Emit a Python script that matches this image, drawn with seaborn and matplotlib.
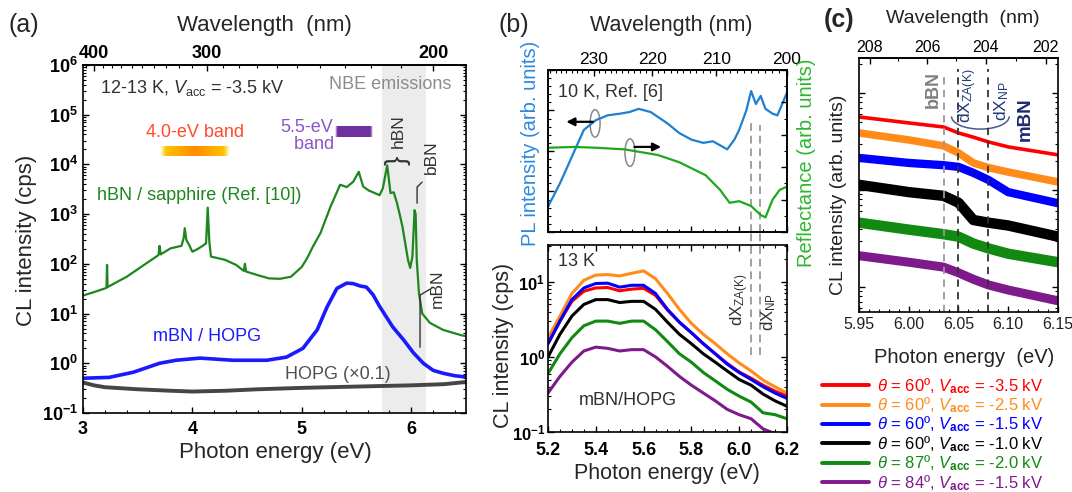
import numpy as np
import matplotlib
matplotlib.use("Agg")
import matplotlib.pyplot as plt
import seaborn as sns
from matplotlib.patches import Ellipse, Arc
from matplotlib.lines import Line2D
from matplotlib.ticker import (MultipleLocator, FixedLocator, LogLocator,
                               NullFormatter, FuncFormatter)

# ---- panel (a): wide-range CL spectra (energy in eV, intensity in cps)
a_e_hbn = [3.00, 3.10, 3.20, 3.215, 3.22, 3.225, 3.30, 3.40, 3.50, 3.60,
           3.69, 3.70, 3.71, 3.80, 3.90, 3.92, 3.93, 3.945, 3.97, 4.00,
           4.05, 4.10, 4.125, 4.14, 4.155, 4.17, 4.30, 4.40, 4.47, 4.48,
           4.49, 4.60, 4.70, 4.80, 4.90, 5.00, 5.05, 5.10, 5.17, 5.26,
           5.35, 5.41, 5.47, 5.52, 5.56, 5.61, 5.65, 5.71, 5.74, 5.78,
           5.81, 5.84, 5.87, 5.90, 5.92, 5.94, 5.97, 5.99, 6.01, 6.03,
           6.04, 6.05, 6.07, 6.10, 6.17, 6.29, 6.45, 6.50]
a_i_hbn = [23, 27, 32, 33, 95, 34, 42, 55, 78, 110,
           150, 230, 155, 205, 230, 330, 520, 300, 240, 175,
           200, 235, 260, 1350, 270, 140, 120, 95, 72, 100,
           70, 59, 51, 50, 55, 87, 132, 220, 415, 1380,
           3900, 3500, 4500, 7100, 3600, 3000, 2750, 2400, 3300, 9600,
           2650, 2750, 1650, 870, 550, 300, 120, 83, 138, 1200,
           1000, 120, 26, 10, 6.5, 4.7, 3.7, 3.5]
a_e_mbn = [3.00, 3.24, 3.46, 3.70, 3.85, 4.07, 4.37, 4.68, 4.86, 5.01,
           5.14, 5.23, 5.32, 5.41, 5.47, 5.53, 5.59, 5.65, 5.71, 5.83,
           5.93, 6.02, 6.11, 6.20, 6.29, 6.40, 6.50]
a_i_mbn = [0.50, 0.52, 0.66, 1.00, 1.15, 1.27, 1.15, 1.15, 1.33, 2.0,
           4.7, 13.5, 32, 41, 40, 36, 34, 24, 14, 5.4,
           2.95, 1.62, 1.0, 0.72, 0.63, 0.56, 0.53]
a_e_hopg = [3.0, 3.1, 3.2, 3.5, 3.8, 4.0, 4.3, 4.6, 5.0, 5.5, 6.0, 6.3, 6.5]
a_i_hopg = [0.41, 0.36, 0.33, 0.30, 0.28, 0.27, 0.28, 0.30, 0.32, 0.34,
            0.36, 0.38, 0.42]

# ---- panel (b) top: PL and reflectance (arb. units)
b_e_pl = [5.20, 5.25, 5.30, 5.35, 5.40, 5.45, 5.50, 5.54, 5.58, 5.63,
          5.70, 5.75, 5.80, 5.85, 5.89, 5.95, 5.98, 6.00, 6.03, 6.05,
          6.07, 6.09, 6.11, 6.14, 6.16, 6.20]
b_i_pl = [0.156, 0.30, 0.465, 0.63, 0.69, 0.72, 0.73, 0.74, 0.76, 0.74,
          0.67, 0.61, 0.57, 0.55, 0.56, 0.51, 0.57, 0.63, 0.75, 0.87,
          0.79, 0.84, 0.76, 0.73, 0.72, 0.86]
b_e_refl = [5.20, 5.31, 5.40, 5.52, 5.66, 5.75, 5.86, 5.92, 5.96, 6.00,
            6.05, 6.09, 6.11, 6.14, 6.17, 6.20]
b_i_refl = [0.52, 0.525, 0.52, 0.51, 0.475, 0.43, 0.35, 0.26, 0.18, 0.19,
            0.16, 0.105, 0.09, 0.20, 0.26, 0.28]

# ---- panel (b) bottom: mBN/HOPG CL (cps)
b_energy = [5.20, 5.25, 5.30, 5.35, 5.40, 5.45, 5.50, 5.55, 5.60, 5.65,
            5.70, 5.75, 5.80, 5.85, 5.90, 5.95, 6.00, 6.05, 6.10, 6.15, 6.20]
b_orange = [1.8, 3.5, 7.0, 10.5, 12.3, 12.5, 12.0, 13.0, 14.0, 11.0,
            7.0, 4.3, 2.8, 2.0, 1.5, 1.1, 0.83, 0.65, 0.49, 0.40, 0.33]
b_red = [1.5, 3.0, 5.5, 7.5, 8.3, 8.4, 7.6, 8.0, 8.2, 6.6,
         4.2, 2.9, 2.1, 1.5, 1.1, 0.82, 0.63, 0.52, 0.42, 0.35, 0.30]
b_blue = [1.5, 3.0, 5.8, 8.3, 9.5, 9.6, 8.5, 9.0, 9.0, 7.0,
          4.3, 2.9, 2.1, 1.5, 1.1, 0.80, 0.62, 0.50, 0.40, 0.33, 0.28]
b_black = [1.0, 2.0, 3.5, 5.0, 5.8, 5.8, 5.3, 5.5, 5.5, 4.3,
           2.9, 2.0, 1.5, 1.1, 0.85, 0.65, 0.50, 0.42, 0.32, 0.26, 0.22]
b_green = [0.6, 1.1, 1.8, 2.6, 3.0, 3.0, 2.8, 3.0, 3.0, 2.3,
           1.6, 1.1, 0.85, 0.62, 0.48, 0.37, 0.30, 0.25, 0.18, 0.17, 0.15]
b_purple = [0.33, 0.55, 0.85, 1.2, 1.35, 1.3, 1.2, 1.25, 1.25, 1.0,
            0.75, 0.55, 0.42, 0.33, 0.26, 0.20, 0.17, 0.15, 0.11, 0.095, 0.085]

# ---- panel (c): close-up (arb. units)
c_energy = [5.95, 6.00, 6.035, 6.05, 6.065, 6.08, 6.10, 6.15]
c_red = [56.6, 49.1, 44.6, 38.7, 35.0, 31.3, 27.8, 23.0]
c_orange = [38.7, 32.8, 28.5, 24.1, 19.0, 17.0, 15.3, 12.1]
c_blue = [21.4, 19.0, 18.0, 17.3, 15.0, 12.7, 9.5, 7.3]
c_black = [11.3, 9.5, 8.7, 7.4, 4.9, 4.6, 4.3, 3.3]
c_green = [4.6, 3.9, 3.5, 3.3, 2.8, 2.5, 2.2, 1.8]
c_purple = [2.1, 1.8, 1.6, 1.4, 1.2, 1.05, 0.93, 0.72]

series_colors = ["#ff0000", "#ff8c1a", "#0000ff", "#000000", "#128a12", "#7f1a8c"]
series_labels = [
    r"$\theta$ = 60º, $V_{\mathbf{acc}}$ = -3.5 kV",
    r"$\theta$ = 60º, $V_{\mathbf{acc}}$ = -2.5 kV",
    r"$\theta$ = 60º, $V_{\mathbf{acc}}$ = -1.5 kV",
    r"$\theta$ = 60º, $V_{\mathbf{acc}}$ = -1.0 kV",
    r"$\theta$ = 87º, $V_{\mathbf{acc}}$ = -2.0 kV",
    r"$\theta$ = 84º, $V_{\mathbf{acc}}$ = -1.5 kV",
]

sns.set_theme(style="ticks")
plt.rcParams["font.family"] = ["Liberation Sans", "DejaVu Sans"]
plt.rcParams["mathtext.fontset"] = "custom"
plt.rcParams["mathtext.rm"] = "Liberation Sans"
plt.rcParams["mathtext.it"] = "Liberation Sans:italic"
plt.rcParams["mathtext.bf"] = "Liberation Sans:bold"
plt.rcParams["axes.edgecolor"] = "black"
plt.rcParams["axes.linewidth"] = 1.2
for k in ("xtick", "ytick"):
    plt.rcParams[f"{k}.direction"] = "in"
    plt.rcParams[f"{k}.color"] = "black"
    plt.rcParams[f"{k}.major.size"] = 4.5
    plt.rcParams[f"{k}.minor.size"] = 2.5
    plt.rcParams[f"{k}.major.width"] = 1.0
    plt.rcParams[f"{k}.minor.width"] = 0.8

HC = 1239.84


def ev_nm(x):
    x = np.asarray(x, dtype=float)
    with np.errstate(divide="ignore"):
        return HC / x


bold_pow = FuncFormatter(lambda v, p: r"$\mathbf{10^{%d}}$" % round(np.log10(v)))


def wave_axis(ax, major, minor, size, weight):
    sec = ax.secondary_xaxis("top", functions=(ev_nm, ev_nm))
    sec.set_xticks(major)
    sec.set_xticklabels([str(m) for m in major], fontsize=size, fontweight=weight)
    sec.xaxis.set_minor_locator(FixedLocator(minor))
    sec.tick_params(which="both", direction="in", pad=2)
    return sec


fig = plt.figure(figsize=(10.72, 4.92), dpi=100)

# ================= (a)
ax_a = fig.add_axes([0.0774, 0.1606, 0.3573, 0.7073])
ax_a.axvspan(5.73, 6.13, color="#ececec", lw=0, zorder=0)
sns.lineplot(x=a_e_hopg, y=a_i_hopg, ax=ax_a, color="#454545", lw=2.8, legend=False)
sns.lineplot(x=a_e_mbn, y=a_i_mbn, ax=ax_a, color="#1a1aff", lw=2.6, legend=False)
sns.lineplot(x=a_e_hbn, y=a_i_hbn, ax=ax_a, color="#1e861e", lw=1.6, legend=False)
ax_a.set_yscale("log")
ax_a.set_xlim(3, 6.5)
ax_a.set_ylim(0.1, 1e6)
ax_a.set_xticks([3, 4, 5, 6])
ax_a.set_xticklabels(["3", "4", "5", "6"], fontsize=13, fontweight="bold")
ax_a.xaxis.set_minor_locator(MultipleLocator(0.2))
ax_a.yaxis.set_major_locator(LogLocator(base=10, numticks=10))
ax_a.yaxis.set_minor_locator(LogLocator(base=10, subs=np.arange(2, 10), numticks=20))
ax_a.yaxis.set_major_formatter(bold_pow)
ax_a.yaxis.set_minor_formatter(NullFormatter())
ax_a.tick_params(axis="y", labelsize=13, which="both", right=True)
ax_a.tick_params(axis="x", which="both", bottom=True, pad=6)
wave_axis(ax_a, [400, 300, 200], list(range(200, 420, 10)), 13, "bold")

ax_a.text(0.044, 0.934, r"12-13 K, $V_{\rm acc}$ = -3.5 kV", transform=ax_a.transAxes,
          fontsize=13, color="#303030", va="center")
ax_a.text(0.963, 0.943, "NBE emissions", transform=ax_a.transAxes, fontsize=13,
          color="#8c8c8c", va="center", ha="right")
ax_a.text(0.292, 0.807, "4.0-eV band", transform=ax_a.transAxes, fontsize=13,
          color="#ff4b2b", va="center", ha="center")
ax_a.text(0.585, 0.796, "5.5-eV\n   band", transform=ax_a.transAxes, fontsize=13,
          color="#8a55c8", va="center", ha="center", linespacing=1.05)
ax_a.text(0.037, 0.626, "hBN / sapphire (Ref. [10])", transform=ax_a.transAxes,
          fontsize=13, color="#1e861e", va="center")
ax_a.text(0.183, 0.221, "mBN / HOPG", transform=ax_a.transAxes, fontsize=13,
          color="#1a1aff", va="center")
ax_a.text(0.527, 0.112, "HOPG (×0.1)", transform=ax_a.transAxes, fontsize=13,
          color="#505050", va="center")
ax_a.text(0.822, 0.81, "hBN", transform=ax_a.transAxes, fontsize=12.5, rotation=90,
          color="#333333", va="center", ha="center")
ax_a.text(0.822, 0.727, "}", transform=ax_a.transAxes, fontsize=20, rotation=90,
          color="#333333", va="center", ha="center")
ax_a.text(0.911, 0.736, "bBN", transform=ax_a.transAxes, fontsize=12.5, rotation=90,
          color="#333333", va="center", ha="center")
ax_a.text(0.924, 0.356, "mBN", transform=ax_a.transAxes, fontsize=12.5, rotation=90,
          color="#333333", va="center", ha="center")
ax_a.plot([6.099, 6.053, 6.053], [4400, 3500, 1660], color="#333333", lw=1)
ax_a.plot([6.172, 6.08, 6.08], [31, 23.5, 2.1], color="#333333", lw=1)

# gradient bars for the defect bands
grad = np.linspace(0, 1, 200)
mix = np.abs(grad - 0.5) * 2
bar1 = np.zeros((1, 200, 4))
bar1[0, :, 0] = 1.0
bar1[0, :, 1] = 0.55 + 0.25 * mix
bar1[0, :, 3] = np.clip((1 - mix) * 6, 0, 1)
ax_g1 = fig.add_axes([160 / 1072, 1 - 156 / 492, 70 / 1072, 10 / 492])
ax_g1.imshow(bar1, aspect="auto")
ax_g1.axis("off")
bar2 = np.zeros((1, 200, 4))
bar2[0, :, 0] = 0.44
bar2[0, :, 1] = 0.19
bar2[0, :, 2] = 0.63
bar2[0, :, 3] = np.clip((1 - mix) * 8, 0, 1)
ax_g2 = fig.add_axes([335 / 1072, 1 - 137 / 492, 38 / 1072, 11 / 492])
ax_g2.imshow(bar2, aspect="auto")
ax_g2.axis("off")

fig.text(0.0075, 0.949, "(a)", fontsize=18, va="center")
fig.text(0.247, 0.949, "Wavelength  (nm)", fontsize=16, va="center", ha="center")
fig.text(0.2565, 0.081, "Photon energy (eV)", fontsize=16, va="center", ha="center")
fig.text(0.025, 0.512, "CL intensity (cps)", fontsize=16, va="center", ha="center",
         rotation=90)

# ================= (b) top
ax_bt = fig.add_axes([0.5112, 0.5285, 0.2229, 0.3293])
sns.lineplot(x=b_e_pl, y=b_i_pl, ax=ax_bt, color="#1f7fd0", lw=1.6, legend=False)
ax_bt.set_xlim(5.2, 6.2)
ax_bt.set_ylim(0, 1)
ax_bt.xaxis.set_major_locator(MultipleLocator(0.2))
ax_bt.xaxis.set_minor_locator(MultipleLocator(0.05))
ax_bt.set_xticklabels([])
ax_bt.yaxis.set_major_locator(MultipleLocator(0.25))
ax_bt.yaxis.set_minor_locator(MultipleLocator(0.05))
ax_bt.set_yticklabels([])
ax_br = ax_bt.twinx()
sns.lineplot(x=b_e_refl, y=b_i_refl, ax=ax_br, color="#1ea81e", lw=1.6, legend=False)
ax_br.set_ylim(0, 1)
ax_br.yaxis.set_major_locator(MultipleLocator(0.2))
ax_br.yaxis.set_minor_locator(MultipleLocator(0.1))
ax_br.set_yticklabels([])
ax_br.set_ylabel("")
wave_axis(ax_bt, [230, 220, 210, 200], list(range(200, 239)), 12.5, "normal")
for xv, top in ((6.05, 0.69), (6.087, 0.66)):
    ax_bt.axvline(xv, ymin=0, ymax=top, color="#a0a0a0", lw=1.4, ls=(0, (4, 2.5)))
ax_bt.text(0.04, 0.86, "10 K, Ref. [6]", transform=ax_bt.transAxes, fontsize=13,
           color="#303030", va="center")
ax_bt.add_patch(Ellipse((5.397, 0.67), 0.042, 0.17, fill=False, ec="#888888", lw=1.1))
ax_bt.add_patch(Ellipse((5.543, 0.49), 0.042, 0.17, fill=False, ec="#888888", lw=1.1))
ax_bt.annotate("", xy=(5.265, 0.68), xytext=(5.40, 0.68),
               arrowprops=dict(arrowstyle="-|>", color="black", lw=1.6))
ax_bt.annotate("", xy=(5.685, 0.525), xytext=(5.55, 0.525),
               arrowprops=dict(arrowstyle="-|>", color="black", lw=1.6))

# ================= (b) bottom
ax_bb = fig.add_axes([0.5112, 0.1220, 0.2229, 0.3801])
for vals, col in zip([b_orange, b_red, b_blue, b_black, b_green, b_purple],
                     [series_colors[1], series_colors[0], series_colors[2],
                      series_colors[3], series_colors[4], series_colors[5]]):
    sns.lineplot(x=b_energy, y=vals, ax=ax_bb, color=col, lw=2.2, legend=False)
ax_bb.set_yscale("log")
ax_bb.set_xlim(5.2, 6.2)
ax_bb.set_ylim(0.1, 31)
ax_bb.set_xticks([5.2, 5.4, 5.6, 5.8, 6.0, 6.2])
ax_bb.set_xticklabels(["5.2", "5.4", "5.6", "5.8", "6.0", "6.2"], fontsize=13,
                      fontweight="bold")
ax_bb.xaxis.set_minor_locator(MultipleLocator(0.05))
ax_bb.yaxis.set_major_locator(LogLocator(base=10, numticks=10))
ax_bb.yaxis.set_minor_locator(LogLocator(base=10, subs=np.arange(2, 10), numticks=20))
ax_bb.yaxis.set_major_formatter(bold_pow)
ax_bb.yaxis.set_minor_formatter(NullFormatter())
ax_bb.tick_params(axis="y", labelsize=12, which="both", right=True, pad=2)
ax_bb.tick_params(axis="x", which="both", top=True, pad=7)
for xv in (6.05, 6.087):
    ax_bb.axvline(xv, ymin=0.41, ymax=1.07, color="#a0a0a0", lw=1.4,
                  ls=(0, (4, 2.5)), clip_on=False)
ax_bb.text(0.04, 0.91, "13 K", transform=ax_bb.transAxes, fontsize=13,
           color="#303030", va="center")
ax_bb.text(0.335, 0.17, "mBN/HOPG", transform=ax_bb.transAxes, fontsize=13,
           color="#303030", va="center", ha="center")
ax_bb.text(0.803, 0.705, r"dX$_{\rm ZA(K)}$", transform=ax_bb.transAxes, fontsize=12,
           rotation=90, color="#303030", va="center", ha="center")
ax_bb.text(0.925, 0.64, r"dX$_{\rm NP}$", transform=ax_bb.transAxes, fontsize=12,
           rotation=90, color="#303030", va="center", ha="center")

fig.text(0.4646, 0.949, "(b)", fontsize=18, va="center")
fig.text(0.626, 0.949, "Wavelength (nm)", fontsize=15.5, va="center", ha="center")
fig.text(0.622, 0.037, "Photon energy (eV)", fontsize=15.5, va="center", ha="center")
fig.text(530 / 1072, 1 - 143 / 492, "PL intensity (arb. units)", fontsize=14.5,
         va="center", ha="center", rotation=90, color="#2a8ae0")
fig.text(806 / 1072, 1 - 163 / 492, "Reflectance (arb. units)", fontsize=14.5,
         va="center", ha="center", rotation=90, color="#2db52d")
fig.text(503 / 1072, 1 - 345 / 492, "CL intensity (cps)", fontsize=15.5,
         va="center", ha="center", rotation=90)

# ================= (c)
ax_c = fig.add_axes([0.8013, 0.3659, 0.1856, 0.5163])
c_series = [c_red, c_orange, c_blue, c_black, c_green, c_purple]
c_widths = [2.6, 5.5, 6.0, 7.5, 7.5, 6.5]
for vals, col, lw in zip(c_series, series_colors, c_widths):
    sns.lineplot(x=c_energy, y=vals, ax=ax_c, color=col, lw=lw, legend=False)
ax_c.set_yscale("log")
ax_c.set_xlim(5.95, 6.15)
ax_c.set_ylim(10 ** -0.258, 10 ** 2.361)
ax_c.set_xticks([5.95, 6.00, 6.05, 6.10, 6.15])
ax_c.set_xticklabels(["5.95", "6.00", "6.05", "6.10", "6.15"], fontsize=11.5,
                     color="#222222")
ax_c.xaxis.set_minor_locator(MultipleLocator(0.01))
ax_c.yaxis.set_major_locator(LogLocator(base=10, numticks=10))
ax_c.yaxis.set_minor_locator(LogLocator(base=10, subs=np.arange(2, 10), numticks=20))
ax_c.yaxis.set_major_formatter(NullFormatter())
ax_c.yaxis.set_minor_formatter(NullFormatter())
ax_c.tick_params(axis="y", which="both", right=True)
wave_axis(ax_c, [208, 206, 204, 202], list(range(202, 209)), 11.5, "normal")
ax_c.axvline(6.035, ymin=0, ymax=0.945, color="#999999", lw=1.3, ls=(0, (4, 3)))
for xv in (6.05, 6.08):
    ax_c.axvline(xv, ymin=0, ymax=0.955, color="#333333", lw=1.3, ls=(0, (4, 3)))
ax_c.text(0.372, 0.874, "bBN", transform=ax_c.transAxes, fontsize=13, rotation=90,
          fontweight="bold", color="#7f7f7f", va="center", ha="center")
ax_c.text(0.548, 0.85, r"dX$_{\rm ZA(K)}$", transform=ax_c.transAxes, fontsize=12.5,
          rotation=90, color="#1f3a7a", va="center", ha="center")
ax_c.text(0.718, 0.83, r"dX$_{\rm NP}$", transform=ax_c.transAxes, fontsize=12.5,
          rotation=90, color="#1f3a7a", va="center", ha="center")
ax_c.text(0.834, 0.76, "mBN", transform=ax_c.transAxes, fontsize=13.5, rotation=90,
          fontweight="bold", color="#1a2a6c", va="center", ha="center")
ax_c.add_patch(Arc((0.61, 0.77), 0.29, 0.1, theta1=180, theta2=360,
                   transform=ax_c.transAxes, color="#4a5a8a", lw=1.1))

fig.text(0.768, 0.959, "(c)", fontsize=18, fontweight="bold", va="center")
fig.text(0.898, 0.963, "Wavelength  (nm)", fontsize=14, va="center", ha="center",
         color="#222222")
fig.text(0.899, 0.274, "Photon energy  (eV)", fontsize=14.5, va="center",
         ha="center", color="#222222")
fig.text(0.782, 0.604, "CL intensity (arb. units)", fontsize=14, va="center",
         ha="center", rotation=90, color="#222222")

handles = [Line2D([], [], color=c, lw=2.8) for c in series_colors]
fig.legend(handles, series_labels, loc="upper left",
           bbox_to_anchor=(822 / 1072, 1 - 376 / 492), frameon=False,
           labelcolor="linecolor", fontsize=12, handlelength=2.8,
           handletextpad=0.5, labelspacing=-0.02, borderpad=0, borderaxespad=0)

fig.savefig("out.png", dpi=100)
